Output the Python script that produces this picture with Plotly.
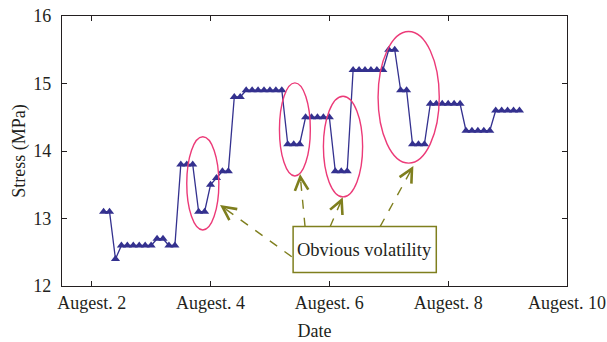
import plotly.graph_objects as go

# Data: time in days of August, stress in MPa
days = [2.2, 2.3, 2.4, 2.5, 2.6, 2.7, 2.8, 2.9, 3.0, 3.1, 3.2, 3.3, 3.4,
        3.5, 3.6, 3.7, 3.8, 3.9, 4.0, 4.1, 4.2, 4.3, 4.4, 4.5, 4.6, 4.7,
        4.8, 4.9, 5.0, 5.1, 5.2, 5.3, 5.4, 5.5, 5.6, 5.7, 5.8, 5.9, 6.0,
        6.1, 6.2, 6.3, 6.4, 6.5, 6.6, 6.7, 6.8, 6.9, 7.0, 7.1, 7.2, 7.3,
        7.4, 7.5, 7.6, 7.7, 7.8, 7.9, 8.0, 8.1, 8.2, 8.3, 8.4, 8.5, 8.6,
        8.7, 8.8, 8.9, 9.0, 9.1, 9.2]
stress = [13.1, 13.1, 12.4, 12.6, 12.6, 12.6, 12.6, 12.6, 12.6, 12.7, 12.7, 12.6, 12.6,
          13.8, 13.8, 13.8, 13.1, 13.1, 13.5, 13.6, 13.7, 13.7, 14.8, 14.8, 14.9, 14.9,
          14.9, 14.9, 14.9, 14.9, 14.9, 14.1, 14.1, 14.1, 14.5, 14.5, 14.5, 14.5, 14.5,
          13.7, 13.7, 13.7, 15.2, 15.2, 15.2, 15.2, 15.2, 15.2, 15.5, 15.5, 14.9, 14.9,
          14.1, 14.1, 14.1, 14.7, 14.7, 14.7, 14.7, 14.7, 14.7, 14.3, 14.3, 14.3, 14.3,
          14.3, 14.6, 14.6, 14.6, 14.6, 14.6]

tick_vals = [2, 4, 6, 8, 10]
tick_text = ["Augest. 2", "Augest. 4", "Augest. 6", "Augest. 8", "Augest. 10"]
y_ticks = [12, 13, 14, 15, 16]

FONT = "Liberation Serif"
TXT = "#231f20"
BLUE = "#34318f"
PINK = "#ec3a78"
OLIVE = "#7f7f1e"

fig = go.Figure()
fig.add_trace(go.Scatter(
    x=days, y=stress, mode="lines+markers",
    line=dict(color=BLUE, width=1.3),
    marker=dict(symbol="triangle-up", size=8, color=BLUE),
    showlegend=False, hoverinfo="skip"))

# Highlight ellipses
ellipses = [(3.60, 4.14, 12.83, 14.21), (5.16, 5.68, 13.63, 15.01),
            (5.90, 6.56, 13.32, 14.81), (6.82, 7.85, 13.82, 15.77)]
for x0, x1, y0, y1 in ellipses:
    fig.add_shape(type="circle", xref="x", yref="y", x0=x0, x1=x1, y0=y0, y1=y1,
                  line=dict(color=PINK, width=1.4))

# Dashed arrows (tail -> tip)
arrows = [((5.367, 12.434), (4.16, 13.2)),
          ((5.591, 12.879), (5.507, 13.659)),
          ((6.012, 12.879), (6.226, 13.314)),
          ((6.854, 12.879), (7.414, 13.778))]
px_per_x = 59.4
px_per_y = 67.5
for (tx, ty), (hx, hy) in arrows:
    fig.add_shape(type="line", xref="x", yref="y", x0=tx, y0=ty, x1=hx, y1=hy,
                  line=dict(color=OLIVE, width=1.4, dash="dash"))
    dxp = (tx - hx) * px_per_x
    dyp = -(ty - hy) * px_per_y
    L = (dxp ** 2 + dyp ** 2) ** 0.5
    fig.add_annotation(x=hx, y=hy, xref="x", yref="y", text="", showarrow=True,
                       ax=dxp / L * 9, ay=dyp / L * 9, axref="pixel", ayref="pixel",
                       arrowhead=5, arrowsize=2.2, arrowwidth=1.2, arrowcolor=OLIVE)

# Label box
fig.add_shape(type="rect", xref="x", yref="y", x0=5.39, x1=7.80, y0=12.20, y1=12.88,
              line=dict(color=OLIVE, width=1.5), fillcolor="white")
fig.add_annotation(x=6.595, y=12.54, xref="x", yref="y", text="Obvious volatility",
                   showarrow=False, font=dict(family=FONT, size=18.5, color=TXT))

fig.update_layout(
    width=607, height=342, margin=dict(l=62, r=40, t=16, b=56, autoexpand=False),
    paper_bgcolor="white", plot_bgcolor="white",
    font=dict(family=FONT, size=18, color=TXT),
    xaxis=dict(range=[1.5, 10], tickvals=tick_vals, ticktext=tick_text,
               ticks="inside", ticklen=5, tickcolor=TXT, tickwidth=1,
               showline=True, linecolor=TXT, linewidth=1.2, mirror="allticks",
               showgrid=False, zeroline=False, automargin=False,
               title=dict(text="Date", standoff=12, font=dict(size=18)),
               tickfont=dict(family=FONT, size=18, color=TXT)),
    yaxis=dict(range=[12, 16], tickvals=y_ticks,
               ticks="inside", ticklen=5, tickcolor=TXT, tickwidth=1,
               showline=True, linecolor=TXT, linewidth=1.2, mirror="allticks",
               showgrid=False, zeroline=False, ticklabelstandoff=6, automargin=False,
               title=dict(text="Stress (MPa)", standoff=2, font=dict(size=18)),
               tickfont=dict(family=FONT, size=18, color=TXT)),
)

fig.write_html("out.html")
